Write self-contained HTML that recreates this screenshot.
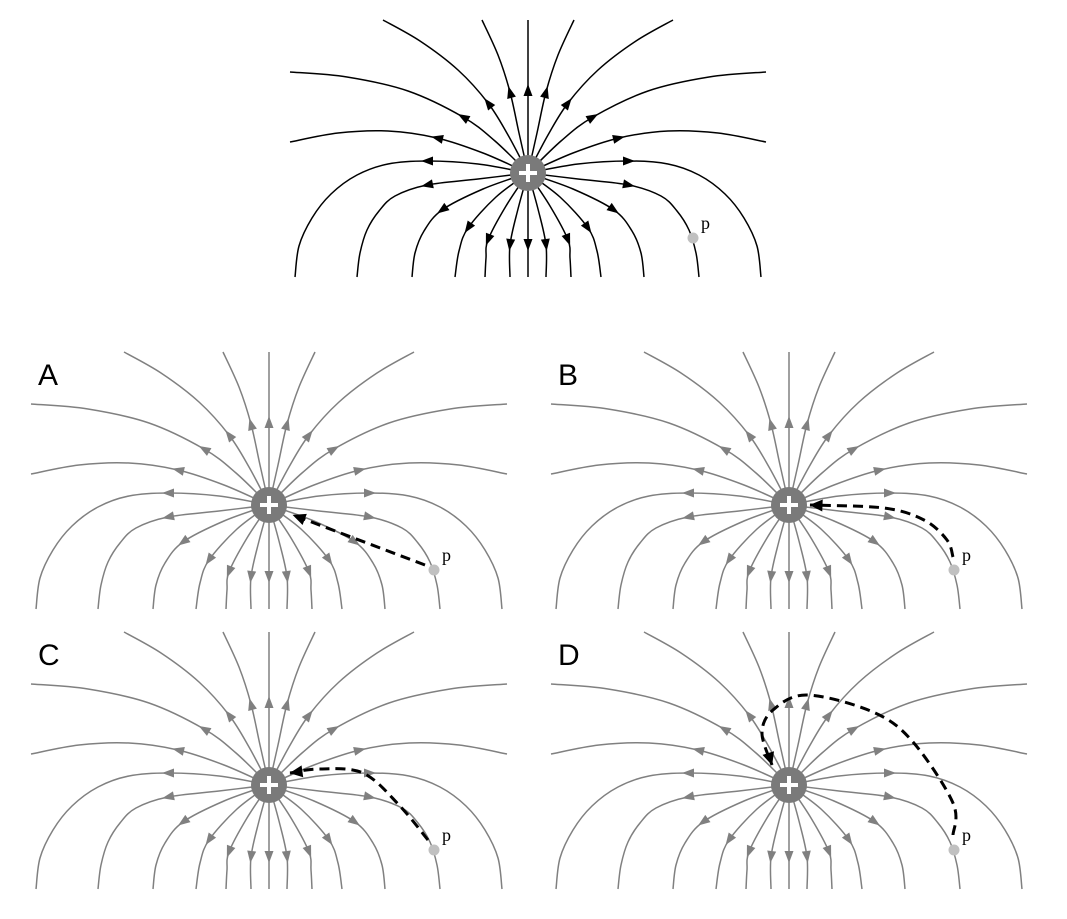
<!DOCTYPE html>
<html><head><meta charset="utf-8"><style>
html,body{margin:0;padding:0;background:#fff;}
svg{display:block;}
</style></head><body>
<svg id="fig" width="1067" height="919" viewBox="0 0 1067 919" xmlns="http://www.w3.org/2000/svg"></svg>
<script>
// field line control points (left half, relative to charge)
const fieldLines = [
  [[0,0],[0,-83],[0,-153]],
  [[0,0],[-9,-40],[-18,-81],[-30,-118],[-46,-153]],
  [[0,0],[-20,-38],[-40,-70],[-70,-103],[-108,-132],[-145,-153]],
  [[0,0],[-33,-32],[-65,-56],[-120,-82],[-181,-96],[-238,-101]],
  [[0,0],[-45,-20],[-91,-35],[-140,-42],[-190,-40],[-238,-31]],
  [[0,0],[-50,-9],[-101,-12],[-140,-9],[-171,2],[-197,21],[-216,45],[-229,73],[-233,104]],
  [[0,0],[-50,6],[-101,12],[-133,23],[-149,38],[-161,57],[-168,80],[-171,104]],
  [[0,0],[-45,16],[-86,37],[-104,58],[-113,80],[-116,104]],
  [[0,0],[-32,24],[-60,55],[-69,78],[-73,104]],
  [[0,0],[-22,33],[-40,67],[-42,85],[-43,104]],
  [[0,0],[-10,36],[-18,72],[-18,104]],
  [[0,0],[0,72],[0,104]]
];
const arrowIndex = [1,2,2,2,2,2,2,2,2,2,2,1];
const panels = [
  {name:'top', cx:528, cy:173, color:'#000', label:''},
  {name:'A', cx:269, cy:505, color:'#808080', label:'A'},
  {name:'B', cx:789, cy:505, color:'#808080', label:'B'},
  {name:'C', cx:269, cy:785, color:'#808080', label:'C'},
  {name:'D', cx:789, cy:785, color:'#808080', label:'D'}
];
const pointP = [165,65];
const dashedPaths = {
  A: [[156,60],[24,10]],
  B: [[164,52],[158,35],[135,15],[95,3],[21,0]],
  C: [[159,55],[130,20],[94,-12],[50,-16],[21,-12]],
  D: [[164,50],[164,18],[124,-43],[84,-73],[18,-90],[-16,-75],[-27,-52],[-17,-20]]
};
const NS='http://www.w3.org/2000/svg';
const svg=document.getElementById('fig');
function mk(tag,attrs,parent){const e=document.createElementNS(NS,tag);for(const k in attrs)e.setAttribute(k,attrs[k]);(parent||svg).appendChild(e);return e;}
function spline(pts){
  let d='M'+pts[0][0]+','+pts[0][1];
  if(pts.length===2){return d+' L'+pts[1][0]+','+pts[1][1];}
  for(let i=0;i<pts.length-1;i++){
    const p0=pts[Math.max(0,i-1)],p1=pts[i],p2=pts[i+1],p3=pts[Math.min(pts.length-1,i+2)];
    const c1=[p1[0]+(p2[0]-p0[0])/6,p1[1]+(p2[1]-p0[1])/6];
    const c2=[p2[0]-(p3[0]-p1[0])/6,p2[1]-(p3[1]-p1[1])/6];
    d+=' C'+c1[0].toFixed(1)+','+c1[1].toFixed(1)+' '+c2[0].toFixed(1)+','+c2[1].toFixed(1)+' '+p2[0]+','+p2[1];
  }
  return d;
}
function arrow(g,x,y,dx,dy,color,len,w){
  const L=Math.hypot(dx,dy)||1;const ux=dx/L,uy=dy/L;const px=-uy,py=ux;
  const tip=[x+ux*len/2,y+uy*len/2],b=[x-ux*len/2,y-uy*len/2];
  return mk('polygon',{points:tip[0]+','+tip[1]+' '+(b[0]+px*w)+','+(b[1]+py*w)+' '+(b[0]-px*w)+','+(b[1]-py*w),fill:color},g);
}
panels.forEach(pn=>{
  const g=mk('g',{transform:'translate('+pn.cx+','+pn.cy+')'});
  
  
  fieldLines.forEach((ln,li)=>{
    [1,-1].forEach(s=>{
      if(s===-1&&(li===0||li===11))return;
      const pts=ln.map(p=>[p[0]*s,p[1]]);
      const path=mk('path',{d:spline(pts),fill:'none',stroke:pn.color,'stroke-width':1.5},g);
      
      
      const k=arrowIndex[li];
      const a=arrow(g,pts[k][0],pts[k][1],pts[k+1][0]-pts[k-1][0],pts[k+1][1]-pts[k-1][1],pn.color,12,4.5);
      
      
    });
  });
  const c=mk('circle',{cx:0,cy:0,r:18,fill:'#7a7a7a'},g);
  
  
  mk('rect',{x:-9,y:-2,width:18,height:4,fill:'#fff'},g);
  mk('rect',{x:-2,y:-9,width:4,height:18,fill:'#fff'},g);
  if(dashedPaths[pn.name]){
    const pts=dashedPaths[pn.name];
    const dp=mk('path',{d:spline(pts),fill:'none',stroke:'#000','stroke-width':3,'stroke-dasharray':'10,6'},g);
    
    
    const n=pts.length,e=pts[n-1],q=pts[n-2];
    const L=Math.hypot(e[0]-q[0],e[1]-q[1]);
    const a=arrow(g,e[0]-(e[0]-q[0])/L*6,e[1]-(e[1]-q[1])/L*6,e[0]-q[0],e[1]-q[1],'#000',13,6);
    
    
  }
  const pd=mk('circle',{cx:pointP[0],cy:pointP[1],r:5.5,fill:'#c0c0c0'},g);
  
  
  const pt=mk('text',{x:pointP[0]+8,y:pointP[1]-9,'font-family':'Liberation Serif, serif','font-size':18,fill:'#000'},g);
  pt.textContent='p';
  
  
  if(pn.label){
    const t=mk('text',{x:pn.cx-231,y:pn.cy-120,'font-family':'Liberation Sans, sans-serif','font-size':30,fill:'#000'});
    t.textContent=pn.label;
    
    
  }
});
</script>
</body></html>
